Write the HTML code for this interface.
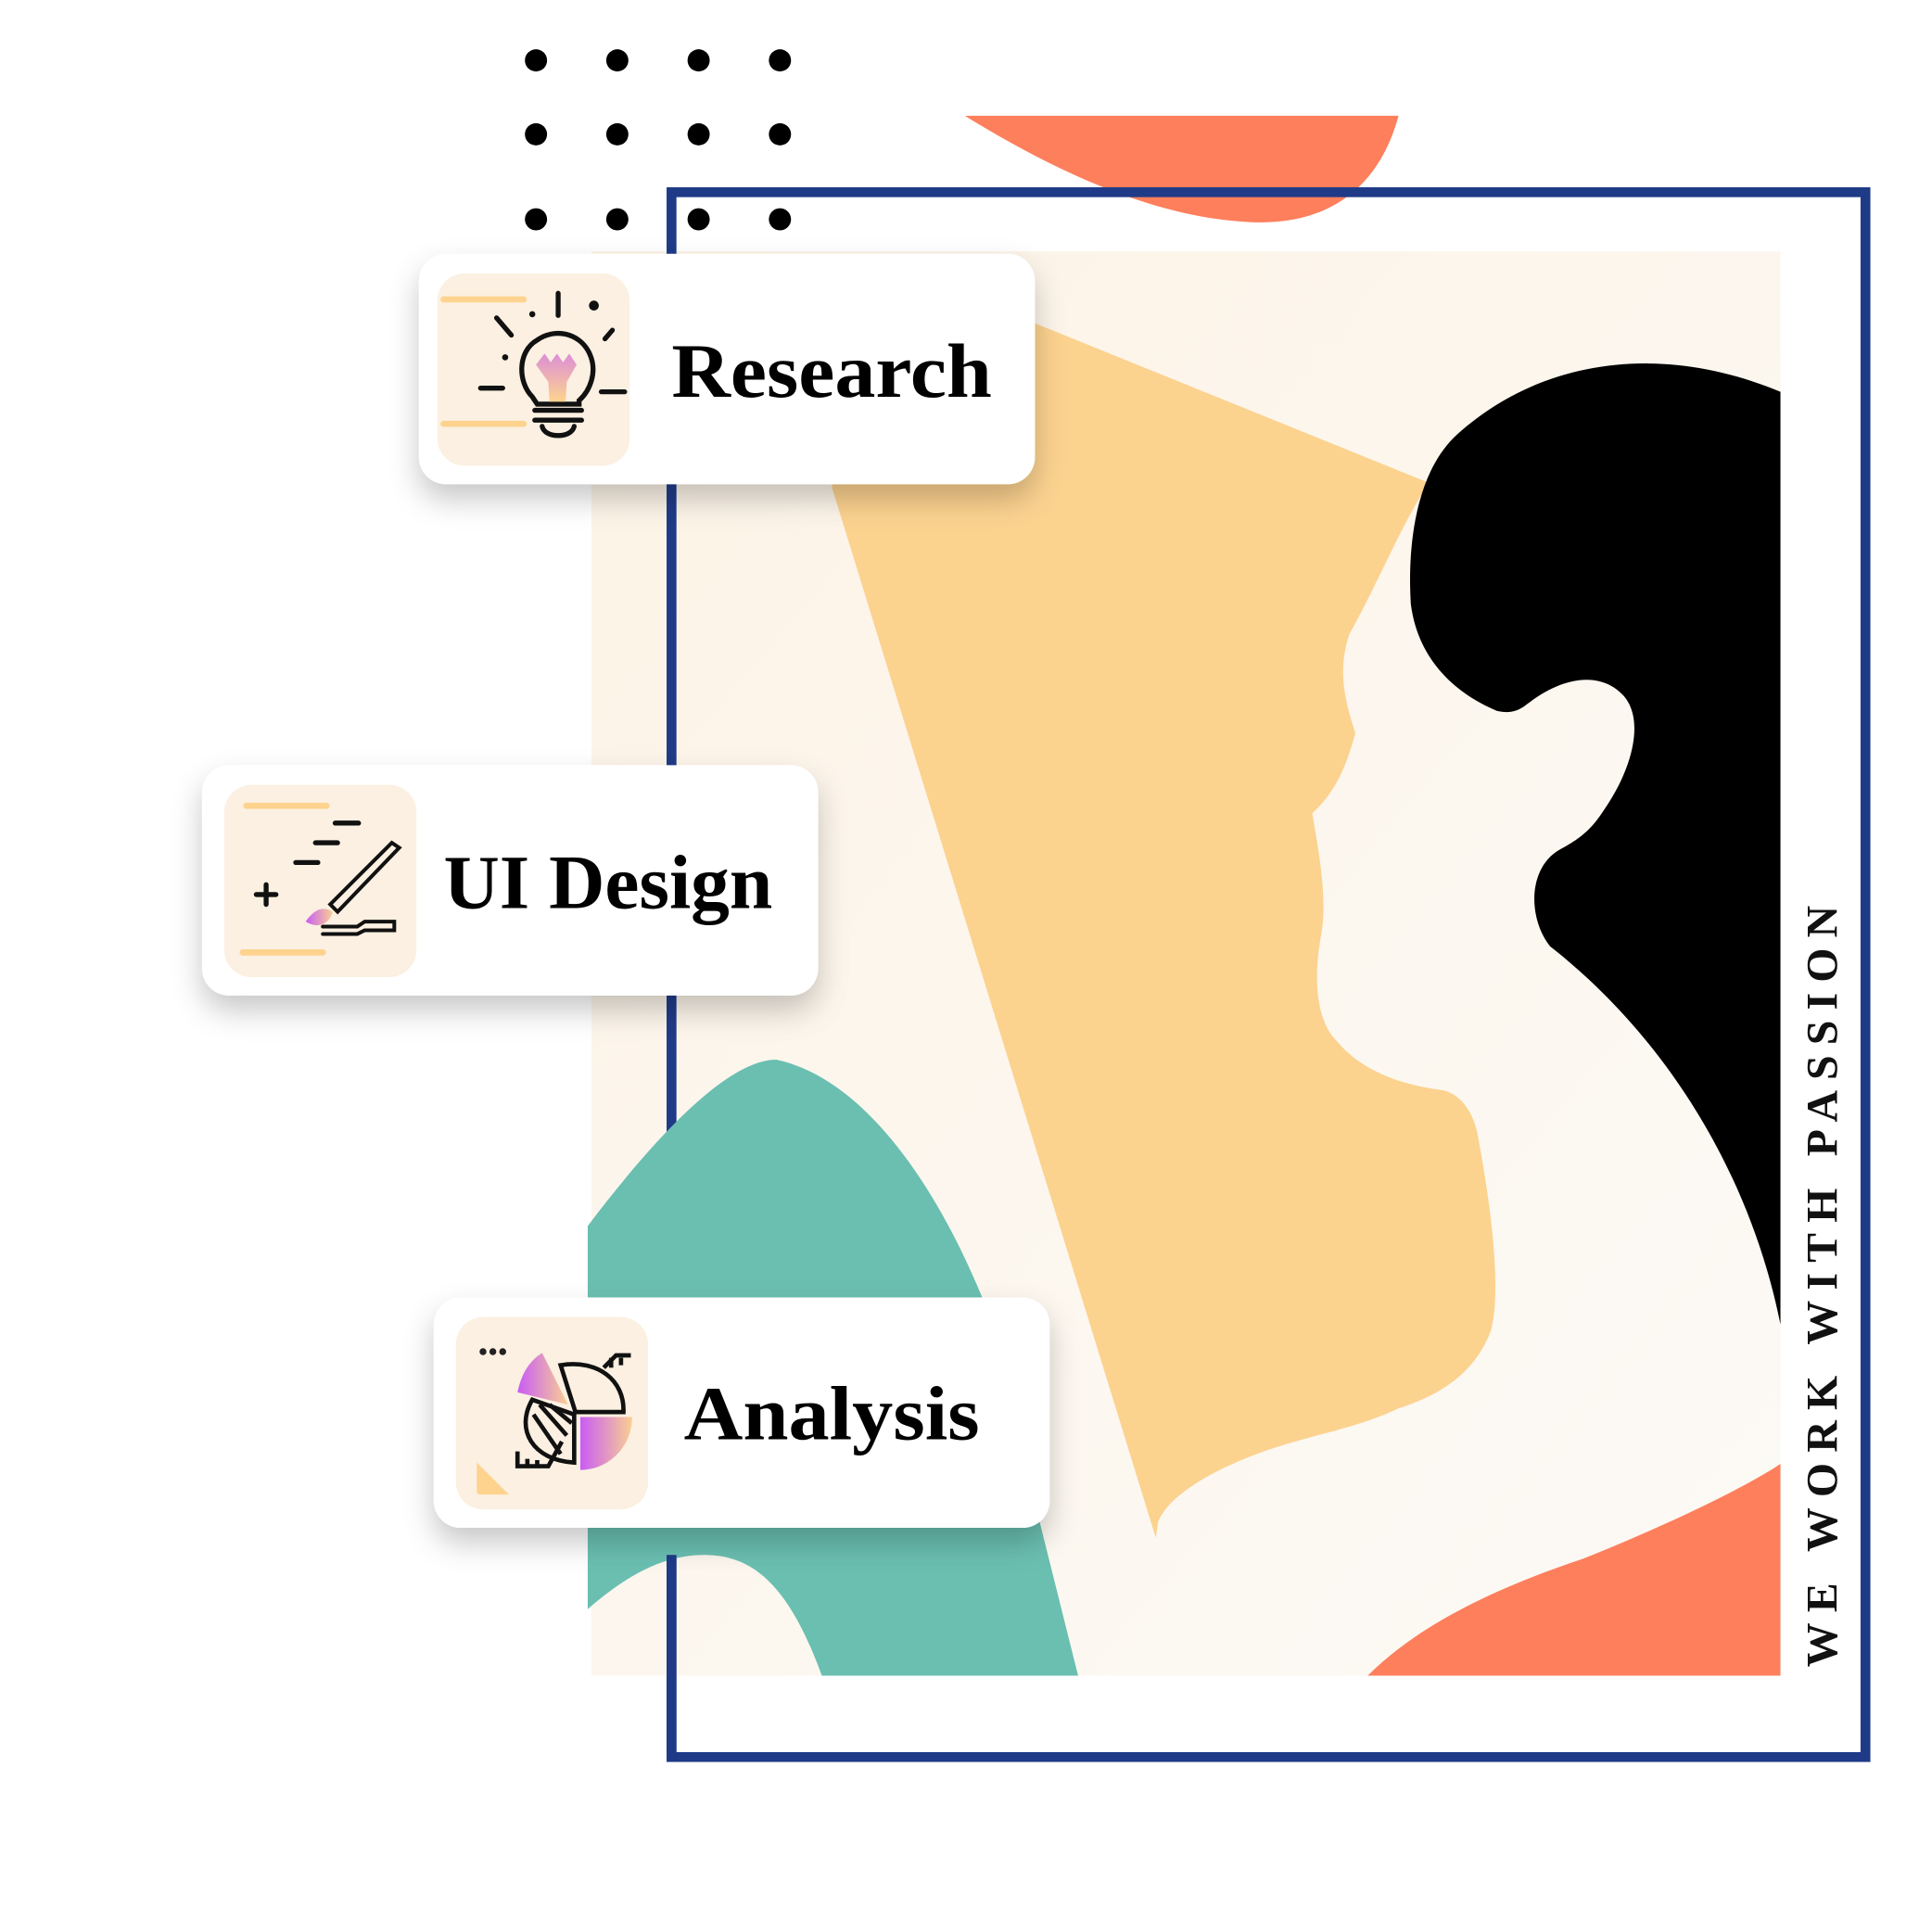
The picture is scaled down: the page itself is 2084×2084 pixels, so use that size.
<!DOCTYPE html>
<html><head><meta charset="utf-8"><style>
html,body{margin:0;padding:0;background:#fff;}
svg{display:block;}
text{font-family:"Liberation Serif",serif;font-weight:bold;}
</style></head><body>
<svg width="2084" height="2084" viewBox="0 0 1568 1568" xmlns="http://www.w3.org/2000/svg">
<defs>
<linearGradient id="cream" x1="0" y1="0" x2="1" y2="1">
<stop offset="0" stop-color="#fdf3e6"/><stop offset="1" stop-color="#fcfaf6"/></linearGradient>
<linearGradient id="bulb" x1="0" y1="0" x2="0" y2="1">
<stop offset="0" stop-color="#dc8ed6"/><stop offset="1" stop-color="#fdd38e"/></linearGradient>
<linearGradient id="pie" x1="0" y1="0" x2="1" y2="0">
<stop offset="0" stop-color="#c95cf5"/><stop offset="1" stop-color="#f9cf92"/></linearGradient>
<filter id="sh" x="-20%" y="-20%" width="140%" height="160%">
<feDropShadow dx="0" dy="12" stdDeviation="12" flood-color="#000" flood-opacity="0.22"/></filter>
</defs>
<g fill="#000">
<circle cx="435" cy="49" r="9"/><circle cx="501" cy="49" r="9"/><circle cx="567" cy="49" r="9"/><circle cx="633" cy="49" r="9"/>
<circle cx="435" cy="109" r="9"/><circle cx="501" cy="109" r="9"/><circle cx="567" cy="109" r="9"/><circle cx="633" cy="109" r="9"/>
<circle cx="435" cy="178" r="9"/><circle cx="501" cy="178" r="9"/><circle cx="567" cy="178" r="9"/><circle cx="633" cy="178" r="9"/>
</g>
<path d="M783,94 L1135,94 C1120,150 1080,185 1010,180 C930,175 850,135 783,94 Z" fill="#fe7f5c"/>
<rect x="480" y="204" width="965" height="1156" fill="url(#cream)"/>
<rect x="545" y="156" width="969" height="1270" fill="none" stroke="#1f3a87" stroke-width="8"/>
<path d="M760,230 L1160,392 C1140,420 1120,470 1095,515 C1085,545 1092,570 1100,595 C1092,625 1082,645 1065,660 C1070,690 1078,730 1072,760 C1065,800 1070,830 1085,845 C1110,875 1150,882 1172,885 C1190,890 1198,910 1200,925 C1212,990 1218,1050 1210,1080 C1195,1120 1160,1135 1135,1143 C1100,1160 1060,1165 1020,1180 C980,1195 948,1215 940,1235 L938,1248 L675,395 Z" fill="#fcd28f"/>
<path d="M1445,318 C1350,278 1250,290 1180,355 C1150,385 1142,440 1145,490 C1150,530 1175,560 1215,577 C1228,580 1235,575 1240,571 C1270,548 1300,545 1318,565 C1335,585 1325,625 1300,660 C1290,675 1280,682 1265,690 C1240,705 1240,745 1258,768 C1350,840 1420,950 1445,1075 Z" fill="#000"/>
<path d="M1110,1360 C1150,1320 1210,1290 1285,1265 C1360,1235 1420,1205 1445,1188 L1445,1360 Z" fill="#fe7f5c"/>
<path d="M477,995 C530,925 590,860 630,860 C700,875 760,960 800,1060 L845,1240 L875,1360 L667,1360 C640,1285 610,1262 572,1262 C535,1262 505,1282 477,1306 Z" fill="#6abfb1"/>
<line x1="545" y1="1262" x2="545" y2="1426" stroke="#1f3a87" stroke-width="8"/>
<text transform="translate(1491,1353) rotate(-90)" font-size="36" textLength="618" lengthAdjust="spacing" fill="#111">WE WORK WITH PASSION</text>
<g filter="url(#sh)">
<rect x="340" y="206" width="500" height="187" rx="22" fill="#fff"/>
<rect x="164" y="621" width="500" height="187" rx="22" fill="#fff"/>
<rect x="352" y="1053" width="500" height="187" rx="22" fill="#fff"/>
</g>
<rect x="355" y="222" width="156" height="156" rx="22" fill="#fbf0e1"/>
<rect x="182" y="637" width="156" height="156" rx="22" fill="#fbf0e1"/>
<rect x="370" y="1069" width="156" height="156" rx="22" fill="#fbf0e1"/>
<text x="545" y="322" font-size="62" textLength="260" lengthAdjust="spacingAndGlyphs" fill="#000">Research</text>
<text x="360" y="737" font-size="62" textLength="267" lengthAdjust="spacingAndGlyphs" fill="#000">UI Design</text>
<text x="555" y="1168" font-size="62" textLength="240" lengthAdjust="spacingAndGlyphs" fill="#000">Analysis</text>
<g stroke-linecap="round">
<line x1="360" y1="243" x2="425" y2="243" stroke="#fdd38e" stroke-width="5"/>
<line x1="360" y1="344" x2="425" y2="344" stroke="#fdd38e" stroke-width="5"/>
<g stroke="#111" stroke-width="4" fill="none">
<line x1="453" y1="238" x2="453" y2="256"/>
<line x1="403" y1="258" x2="415" y2="272"/>
<line x1="497" y1="268" x2="491" y2="275"/>
<line x1="390" y1="315" x2="408" y2="315"/>
<line x1="488" y1="318" x2="507" y2="318"/>
<path d="M432,322 C420,310 420,285 436,276 C450,266 470,270 478,286 C486,302 478,318 470,325 L470,328 L436,328 Z" fill="none"/>
<line x1="434" y1="333" x2="472" y2="333"/>
<line x1="434" y1="341" x2="472" y2="341"/>
<path d="M440,346 C442,356 464,356 466,346"/>
</g>
<path d="M435,296 L442,287 L447,294 L452,287 L457,294 L462,287 L468,296 L460,310 L459,326 L446,326 L445,310 Z" fill="url(#bulb)"/>
<circle cx="482" cy="248" r="4" fill="#111"/><circle cx="432" cy="255" r="2.5" fill="#111"/><circle cx="410" cy="290" r="2.5" fill="#111"/>
</g>
<g stroke-linecap="round">
<line x1="200" y1="654" x2="265" y2="654" stroke="#fdd38e" stroke-width="5"/>
<line x1="197" y1="773" x2="262" y2="773" stroke="#fdd38e" stroke-width="5"/>
<g stroke="#111" stroke-width="4" fill="none">
<line x1="272" y1="668" x2="291" y2="668"/>
<line x1="256" y1="684" x2="274" y2="684"/>
<line x1="240" y1="700" x2="258" y2="700"/>
<line x1="208" y1="726" x2="224" y2="726"/><line x1="216" y1="718" x2="216" y2="734"/>
<path d="M268,734 L318,684 L324,688 L274,740 Z" stroke-width="3"/>
<path d="M262,752 L290,752 L296,748 L320,748 L320,755 L296,755 L290,758 L262,758" stroke-width="3"/>
</g>
<path d="M248,748 C255,738 262,735 270,740 C268,748 260,755 248,748 Z" fill="url(#pie)"/>
</g>
<g>
<circle cx="392" cy="1097" r="2.8" fill="#222"/><circle cx="400" cy="1097" r="2.8" fill="#222"/><circle cx="408" cy="1097" r="2.8" fill="#222"/>
<path d="M387,1187 L387,1210 Q387,1213 390,1213 L413,1213 Z" fill="#fdd38e"/>
<path d="M440,1098 L461,1140 L420,1130 C423,1115 430,1104 440,1098 Z" fill="url(#pie)"/>
<path d="M471,1150 L513,1150 C513,1175 493,1193 471,1193 Z" fill="url(#pie)"/>
<g stroke="#111" stroke-width="3.5" fill="none">
<path d="M455,1108 C485,1103 507,1120 506,1146 L467,1146 Z"/>
<path d="M432,1136 C418,1160 432,1185 466,1187 L466,1148 Z"/>
<line x1="433" y1="1148" x2="455" y2="1180"/>
<line x1="438" y1="1140" x2="460" y2="1165"/>
<line x1="446" y1="1140" x2="464" y2="1155"/>
<path d="M490,1110 L500,1100 L512,1100"/><line x1="496" y1="1102" x2="496" y2="1110"/><line x1="504" y1="1102" x2="504" y2="1108"/>
<path d="M456,1170 L445,1190 L420,1190 L420,1178"/><line x1="428" y1="1190" x2="428" y2="1184"/><line x1="436" y1="1190" x2="436" y2="1185"/>
</g>
</g>
</svg>
</body></html>
